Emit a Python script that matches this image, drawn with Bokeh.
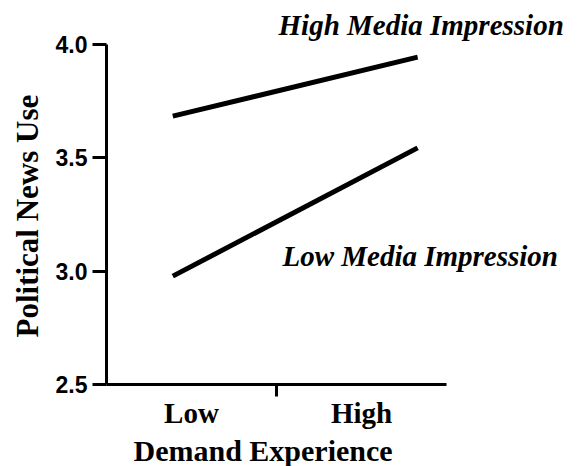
from bokeh.plotting import figure
from bokeh.models import Range1d, LinearAxis, FixedTicker, PrintfTickFormatter, Title
from bokeh.core.properties import value
from bokeh.embed import file_html
from bokeh.resources import INLINE

# Data
x_labels = ["Low", "High"]
x_label_pos = [0.5, 1.5]
line_x = [0.39, 1.83]
high_media = [3.684, 3.944]
low_media = [2.978, 3.544]
y_ticks = [2.5, 3.0, 3.5, 4.0]
series_names = ["High Media Impression", "Low Media Impression"]
x_title = "Demand Experience"
y_title = "Political News Use"

SERIF = "Liberation Serif"
SANS = "Liberation Sans"

p = figure(width=580, height=466, output_backend="svg", toolbar_location=None,
           x_range=Range1d(0, 2.788), y_range=Range1d(2.5, 4.194),
           x_axis_location=None, y_axis_location=None,
           min_border_left=106, min_border_right=0, min_border_top=0, min_border_bottom=82)
p.outline_line_color = None
p.xgrid.visible = False
p.ygrid.visible = False
p.background_fill_color = "white"
p.border_fill_color = "white"

# Y axis
yax = LinearAxis(ticker=FixedTicker(ticks=y_ticks), bounds=(2.5, 4.0),
                 formatter=PrintfTickFormatter(format="%.1f"))
yax.axis_line_width = 3
yax.major_tick_line_width = 3
yax.major_tick_in = 0
yax.major_tick_out = 14
yax.minor_tick_line_color = None
yax.major_label_standoff = 5
yax.major_label_text_font = SANS
yax.major_label_text_font_style = "bold"
yax.major_label_text_font_size = "23px"
yax.major_label_text_color = "black"
p.add_layout(yax, "left")

# X axis line with middle tick
xax = LinearAxis(ticker=FixedTicker(ticks=[1]), bounds=(0, 2))
xax.axis_line_width = 3
xax.major_tick_line_width = 3
xax.major_tick_in = 0
xax.major_tick_out = 12
xax.minor_tick_line_color = None
xax.major_label_overrides = {1: ""}
xax.major_label_text_font_size = "0px"
xax.major_label_standoff = 0
p.add_layout(xax, "below")

# X category labels
xlab = LinearAxis(ticker=FixedTicker(ticks=x_label_pos))
xlab.axis_line_color = None
xlab.major_tick_line_color = None
xlab.minor_tick_line_color = None
xlab.major_tick_out = 0
xlab.major_tick_in = 0
xlab.major_label_overrides = {pos: lab for pos, lab in zip(x_label_pos, x_labels)}
xlab.major_label_standoff = 0
xlab.major_label_text_font = SERIF
xlab.major_label_text_font_style = "bold"
xlab.major_label_text_font_size = "29px"
xlab.major_label_text_color = "black"
p.add_layout(xlab, "below")

# Axis titles
p.add_layout(Title(text=y_title, align="left", offset=47, standoff=12,
                   vertical_align="top",
                   text_font=SERIF, text_font_style="bold", text_font_size="31px",
                   text_color="black"), "left")
p.add_layout(Title(text=x_title, align="left", offset=27, standoff=0,
                   text_font=SERIF, text_font_style="bold", text_font_size="30px",
                   text_color="black"), "below")

# Lines
p.line(line_x, high_media, line_color="black", line_width=5)
p.line(line_x, low_media, line_color="black", line_width=5)

# Series labels
p.text(x=[1.012], y=[4.087], text=[series_names[0]], text_font=value(SERIF),
       text_font_style="bold italic", text_font_size="29px", text_color="black",
       text_baseline="alphabetic", text_align="left")
p.text(x=[1.035], y=[3.069], text=[series_names[1]], text_font=value(SERIF),
       text_font_style="bold italic", text_font_size="29px", text_color="black",
       text_baseline="alphabetic", text_align="left")

open("out.html", "w").write(file_html(p, INLINE))
